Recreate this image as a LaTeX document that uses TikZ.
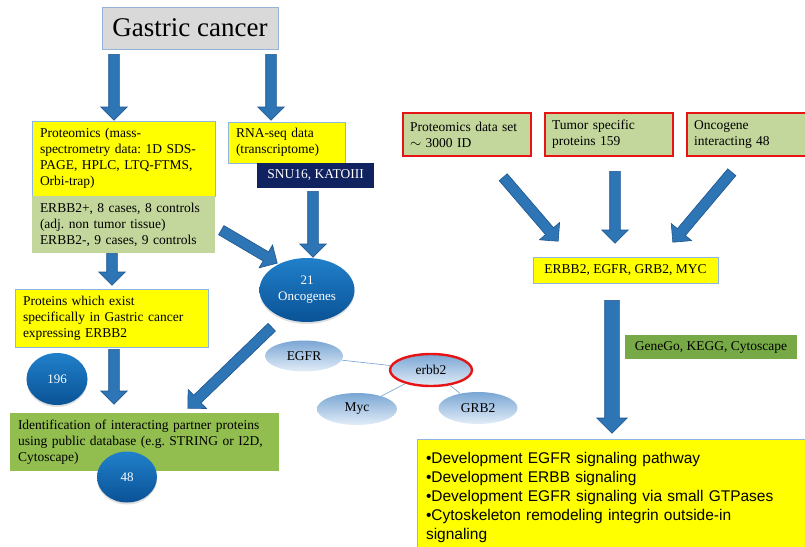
\documentclass[tikz,border=0pt]{standalone}
\usepackage{fontspec}
\setmainfont{Liberation Serif}
\newfontfamily\arialfont{Liberation Sans}
\usetikzlibrary{shapes.geometric, shapes.arrows, shadows, calc, positioning}
\frenchspacing
\definecolor{gcgray}{RGB}{217,217,217}
\definecolor{gcline}{RGB}{149,179,215}
\definecolor{ylw}{RGB}{255,255,0}
\definecolor{yline}{RGB}{141,180,226}
\definecolor{lgreen}{RGB}{195,214,155}
\definecolor{mgreen}{RGB}{146,190,80}
\definecolor{tgreen}{RGB}{119,170,70}
\definecolor{navy}{RGB}{16,34,96}
\definecolor{arrowblue}{RGB}{46,117,182}
\definecolor{arrowline}{RGB}{31,85,140}
\definecolor{ballhi}{RGB}{32,128,202}
\definecolor{balllo}{RGB}{10,82,150}
\definecolor{palehi}{RGB}{122,166,212}
\definecolor{palelo}{RGB}{226,237,248}
\definecolor{netline}{RGB}{110,160,210}
\definecolor{redline}{RGB}{230,20,20}
\tikzset{
box/.style={align=left, inner xsep=8pt, inner ysep=2pt, font=\fontsize{13.5}{16}\selectfont}, % every text box
ybox/.style={box, fill=ylw, draw=yline, line width=0.8pt}, % yellow boxes
gbox/.style={box, fill=lgreen}, % light green boxes
rbox/.style={box, fill=lgreen, draw=redline, line width=1.8pt, inner xsep=7pt}, % red framed boxes
ball/.style={ellipse, inner sep=1pt, top color=ballhi, bottom color=balllo, text=white, align=center,
  font=\fontsize{13}{16}\selectfont, drop shadow={opacity=0.25, shadow xshift=0pt, shadow yshift=-2pt}}, % dark blue ovals
gene/.style={ellipse, inner sep=1pt, top color=palehi, bottom color=palelo, font=\fontsize{13.5}{16}\selectfont}, % network nodes
barrow/.style={single arrow, fill=arrowblue, draw=arrowline, line width=0.6pt, inner xsep=0pt, inner ysep=5pt,
  minimum width=0pt, single arrow head extend=8pt, single arrow tip angle=90}, % block arrows
wide/.style={inner ysep=7pt, single arrow head extend=8pt} % the long one
}
% block arrow from one coordinate to another
\newcommand{\blockarrow}[3][]{%
  \path let \p1=($(#3)-(#2)$), \n1={veclen(\x1,\y1)}, \n2={atan2(\y1,\x1)} in
    node[barrow, #1, minimum height=\n1, rotate=\n2, anchor=tail] at (#2) {};%
}

\begin{document}
\begin{tikzpicture}[x=1pt, y=-1pt]
\useasboundingbox (0,0) rectangle (805,546);

% left part
\node[box, fill=gcgray, draw=gcline, line width=0.8pt, minimum width=176pt, minimum height=42pt,
  font=\fontsize{27}{30}\selectfont, align=center] (gc) at (190,28) {Gastric cancer};
\node[ybox, minimum width=183pt, minimum height=75pt, text width=167pt] (prot) at (123.5,158.5)
  {Proteomics (mass-\\spectrometry data: 1D SDS-\\PAGE, HPLC, LTQ-FTMS,\\Orbi-trap)};
\node[gbox, minimum width=183pt, minimum height=57pt, text width=167pt] (cases) at (123.5,224.5)
  {ERBB2+, 8 cases, 8 controls\\(adj. non tumor tissue)\\ERBB2-, 9 cases, 9 controls};
\node[ybox, minimum width=117pt, minimum height=41pt, text width=101pt] (rna) at (286.5,142.5)
  {RNA-seq data\\(transcriptome)};
\node[box, fill=navy, text=white, align=center, minimum width=117pt, minimum height=25pt] (snu) at (315.5,175.5)
  {SNU16, KATOIII};
\node[ball, minimum width=95pt, minimum height=64pt] (onco) at (307,290) {21\\Oncogenes};
\node[ybox, minimum width=193pt, minimum height=58pt, text width=177pt] (spec) at (111.5,318)
  {Proteins which exist\\specifically in Gastric cancer\\expressing ERBB2};
\node[ball, minimum width=61pt, minimum height=52pt] (n196) at (57,379) {196};
\node[box, fill=mgreen, minimum width=269pt, minimum height=58pt, text width=253pt] (ident) at (144.5,442)
  {Identification of interacting partner proteins\\using public database (e.g. STRING or I2D,\\Cytoscape)};
\node[ball, minimum width=60pt, minimum height=51pt] (n48) at (127,477) {48};

% small network
\node[gene, minimum width=78pt, minimum height=31pt] (egfr) at (304,356) {EGFR};
\node[gene, minimum width=82pt, minimum height=32pt, draw=redline, line width=2.4pt] (erbb2) at (431,370) {erbb2};
\node[gene, minimum width=80pt, minimum height=32pt] (myc) at (357,409) {Myc};
\node[gene, minimum width=79pt, minimum height=32pt] (grb2) at (478,408) {GRB2};
\draw[netline, line width=0.6pt] (egfr) -- (erbb2) (erbb2) -- (myc) (erbb2) -- (grb2);

% right part
\node[rbox, minimum width=128pt, minimum height=43pt, text width=114pt] (pds) at (467,134.5)
  {Proteomics data set\\$\sim$ 3000 ID};
\node[rbox, minimum width=128pt, minimum height=43pt, text width=114pt] (tsp) at (609,134.5)
  {Tumor specific\\proteins 159};
\node[rbox, minimum width=119pt, minimum height=43pt, text width=105pt] (oint) at (746.5,134.5)
  {Oncogene\\interacting 48};
\node[ybox, align=center, minimum width=185pt, minimum height=26pt] (hub) at (625.5,270)
  {ERBB2, EGFR, GRB2, MYC};
\node[box, fill=tgreen, align=center, minimum width=172pt, minimum height=24pt] (tools) at (711,347)
  {GeneGo, KEGG, Cytoscape};
\node[ybox, minimum width=400pt, minimum height=115pt, text width=382pt, inner xsep=9pt,
  font=\arialfont\fontsize{15.5}{19}\selectfont] (path) at (617,497)
  {•Development EGFR signaling pathway\\•Development ERBB signaling\\•Development EGFR signaling via small GTPases\\•Cytoskeleton remodeling integrin outside-in\\signaling};

% arrow ends
\coordinate (gcL) at (114,54);   \coordinate (protT) at (114,120);
\coordinate (gcR) at (271,54);   \coordinate (rnaT) at (271,120);
\coordinate (snuB) at (313,191); \coordinate (oncoT) at (313,257);
\coordinate (casesR) at (221,230); \coordinate (oncoL) at (277,263);
\coordinate (casesB) at (112,253); \coordinate (specT) at (112,285);
\coordinate (specB) at (114,349); \coordinate (identT) at (114,404);
\coordinate (oncoB) at (272,327); \coordinate (identR) at (188,408);
\coordinate (pdsB) at (503,177);  \coordinate (hubL) at (558,241);
\coordinate (tspB) at (615,171);  \coordinate (hubT) at (615,243);
\coordinate (ointB) at (732,172); \coordinate (hubR) at (673,242);
\coordinate (hubB) at (612,300);  \coordinate (pathT) at (612,433);

\blockarrow{gcL}{protT}
\blockarrow{gcR}{rnaT}
\blockarrow{snuB}{oncoT}
\blockarrow{casesR}{oncoL}
\blockarrow{casesB}{specT}
\blockarrow{specB}{identT}
\blockarrow{oncoB}{identR}
\blockarrow{pdsB}{hubL}
\blockarrow{tspB}{hubT}
\blockarrow{ointB}{hubR}
\blockarrow[wide]{hubB}{pathT}
\end{tikzpicture}
\end{document}
